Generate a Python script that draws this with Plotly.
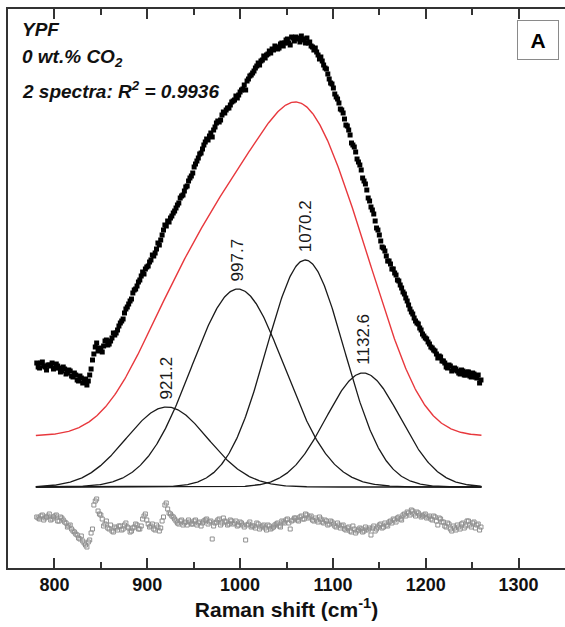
import numpy as np
import plotly.graph_objects as go

# Two spectra on interleaved Raman shift grids (cm-1)
shift_step, n_points = 3, 160
shift_a = 781.0 + shift_step * np.arange(n_points)
shift_b = 782.5 + shift_step * np.arange(n_points)

# Measured intensity (a.u., stacked above the component baseline)
intensity_a = [
    124, 119, 125, 120, 122, 121, 118, 123, 119, 116,
    118, 114, 116, 110, 112, 106, 109, 105, 102, 112,
    127, 140, 136, 138, 141, 147, 143, 149, 152, 157,
    164, 168, 178, 183, 188, 197, 201, 207, 215, 218,
    221, 227, 231, 238, 242, 252, 262, 266, 269, 274,
    279, 284, 291, 296, 301, 309, 314, 323, 329, 334,
    342, 348, 351, 350, 360, 366, 367, 375, 377, 379,
    385, 387, 389, 395, 398, 397, 408, 412, 416, 421,
    422, 427, 429, 433, 434, 437, 440, 439, 444, 444,
    448, 442, 449, 450, 448, 451, 447, 449, 445, 440,
    439, 432, 430, 422, 418, 408, 403, 393, 388, 378,
    374, 362, 357, 344, 340, 328, 322, 309, 303, 289,
    280, 273, 259, 252, 240, 236, 226, 223, 218, 212,
    206, 199, 193, 186, 178, 173, 166, 163, 157, 151,
    148, 143, 139, 136, 129, 130, 126, 120, 122, 116,
    119, 116, 113, 116, 112, 115, 110, 113, 109, 104,
]
intensity_b = [
    120, 124, 121, 117, 122, 124, 119, 121, 115, 120,
    113, 117, 111, 114, 107, 111, 104, 108, 106, 118,
    133, 144, 139, 135, 146, 142, 146, 154, 154, 161,
    166, 174, 180, 186, 194, 198, 205, 211, 213, 220,
    225, 232, 234, 244, 247, 257, 261, 265, 271, 276,
    282, 289, 292, 300, 306, 311, 320, 326, 333, 338,
    345, 347, 354, 357, 364, 365, 372, 374, 379, 382,
    386, 391, 392, 397, 402, 406, 411, 414, 419, 424,
    426, 431, 432, 436, 438, 441, 438, 443, 441, 447,
    444, 450, 446, 449, 445, 448, 444, 444, 441, 437,
    435, 428, 426, 419, 413, 404, 399, 390, 384, 377,
    368, 361, 352, 342, 335, 325, 317, 306, 297, 286,
    277, 266, 257, 246, 239, 231, 226, 218, 214, 207,
    202, 195, 189, 182, 175, 169, 164, 159, 153, 149,
    145, 140, 137, 133, 131, 126, 124, 119, 121, 117,
    118, 114, 117, 112, 115, 111, 114, 110, 112, 107,
]

# Fit residuals (a.u.)
residual_a = [
    6, 4, 8, 5, 7, 3, 6, 8, 2, 5,
    1, -4, -2, -8, -11, -15, -13, -20, -24, -17,
    -6, 22, 12, 8, -3, 2, -6, -8, -4, -7,
    -3, -6, 0, -5, -8, -4, -2, -6, 4, 9,
    -1, -3, -6, -2, -8, 2, 18, 14, 9, 6,
    2, -1, 3, 0, -2, 1, -1, 3, 0, -3,
    2, 4, 1, -16, 0, 3, -2, 5, 1, -1,
    2, 0, -3, 1, -2, -17, -1, -4, -3, 0,
    -6, -3, -5, -2, -6, -4, -1, -3, 2, 0,
    4, -6, 3, 5, 2, 7, 4, 8, 6, 3,
    5, 1, 4, 0, 2, -1, 1, -3, 0, -5,
    -2, -7, -4, -9, -6, -8, -5, -9, -4, -7,
    -12, -3, -6, -2, -5, 0, -3, 2, 4, 1,
    6, 3, 9, 11, 8, 12, 7, 10, 6, 8,
    5, 7, 3, 6, -2, 4, 1, -4, -1, -8,
    -5, -2, -6, 0, -3, 2, -4, 1, -2, -7,
]
residual_b = [
    5, 7, 3, 6, 9, 4, 7, 2, 6, 3,
    0, -3, -6, -9, -12, -16, -18, -22, -19, -10,
    18, 24, 9, 4, -1, -5, -2, -9, -5, -3,
    -7, -2, -4, -9, -5, -1, -6, -3, 7, 3,
    -4, -1, -7, -4, -5, 6, 20, 10, 7, 4,
    0, 2, -2, 1, 3, -1, 2, -2, 1, 0,
    3, -1, 2, -3, 1, 4, 0, 2, -2, 3,
    -1, 2, -2, 0, -4, -2, 1, -3, -5, -1,
    -4, -2, -7, -3, -5, -2, 0, -4, 1, 3,
    0, 2, 5, 3, 6, 4, 9, 5, 7, 2,
    3, 6, 1, 3, -2, 2, -1, -4, -2, -3,
    -6, -5, -8, -3, -10, -7, -6, -8, -6, -5,
    -5, -8, -4, -1, -4, -2, 1, 0, 3, 5,
    4, 8, 7, 10, 13, 9, 11, 8, 7, 9,
    6, 4, 7, 2, 5, 1, -3, 0, -6, -3,
    -7, -4, -1, -5, 2, -2, 0, -5, -1, -4,
]

# Gaussian components of the fit: centre (cm-1), amplitude (a.u.), sigma (cm-1)
peak_centers = [921.2, 997.7, 1070.2, 1132.6]
peak_amplitudes = [80, 198, 227, 114]
peak_sigmas = [44, 50, 42, 40]

# Vertical offsets used to stack the curves
FIT_OFFSET = 51
RESIDUAL_OFFSET = -36

model_x = np.linspace(780, 1260, 600)
components = [
    a * np.exp(-((model_x - c) ** 2) / (2 * s ** 2))
    for c, a, s in zip(peak_centers, peak_amplitudes, peak_sigmas)
]
fit_sum = np.sum(components, axis=0)

FONT = "Arial, Liberation Sans, sans-serif"
fig = go.Figure()

# residuals of both spectra
for xs, rs in ((shift_a, residual_a), (shift_b, residual_b)):
    fig.add_trace(go.Scatter(
        x=xs, y=np.array(rs) + RESIDUAL_OFFSET, mode="markers",
        marker=dict(symbol="square-open", size=4, color="#909090", line=dict(width=1)),
        hoverinfo="skip",
    ))
# individual components
for comp in components:
    fig.add_trace(go.Scatter(
        x=model_x, y=comp, mode="lines",
        line=dict(color="#1a1a1a", width=1.3), hoverinfo="skip",
    ))
# cumulative fit
fig.add_trace(go.Scatter(
    x=model_x, y=fit_sum + FIT_OFFSET, mode="lines",
    line=dict(color="#e8383d", width=1.4), hoverinfo="skip",
))
# measured spectra
for xs, ys in ((shift_a, intensity_a), (shift_b, intensity_b)):
    fig.add_trace(go.Scatter(
        x=xs, y=ys, mode="markers",
        marker=dict(symbol="square", size=5, color="black"),
        hoverinfo="skip",
    ))

annotations = []
for c, a in zip(peak_centers, peak_amplitudes):
    annotations.append(dict(
        x=c, y=a + 6, xref="x", yref="y", text=f"{c:.1f}",
        textangle=-90, showarrow=False, xanchor="center", yanchor="bottom",
        font=dict(family=FONT, size=17, color="#1a1a1a"),
    ))

header = [
    ("<b><i>YPF</i></b>", 0.985),
    ("<b><i>0 wt.% CO<sub>2</sub></i></b>", 0.937),
    ("<b><i>2 spectra: R<sup>2</sup> = 0.9936</i></b>", 0.880),
]
for text, yp in header:
    annotations.append(dict(
        x=0.022, y=yp, xref="paper", yref="paper", text=text, showarrow=False,
        xanchor="left", yanchor="top", font=dict(family=FONT, size=19, color="#111"),
    ))

annotations.append(dict(
    x=0.951, y=0.945, xref="paper", yref="paper", text="<b>A</b>", showarrow=False,
    xanchor="center", yanchor="middle", font=dict(family=FONT, size=21, color="black"),
    bordercolor="#8a8a8a", borderwidth=1, borderpad=7, width=26, height=24,
))

fig.update_layout(
    width=565, height=627,
    margin=dict(l=8, r=0, t=9, b=59),
    paper_bgcolor="white", plot_bgcolor="white",
    showlegend=False,
    annotations=annotations,
    xaxis=dict(
        range=[750, 1350], showgrid=False, zeroline=False,
        showline=True, linecolor="#333", linewidth=1.5, mirror="allticks",
        ticks="inside", ticklen=10, tickwidth=1.5, tickcolor="#333",
        tickmode="array", tickvals=[800, 900, 1000, 1100, 1200, 1300],
        ticktext=["<b>800</b>", "<b>900</b>", "<b>1000</b>", "<b>1100</b>",
                  "<b>1200</b>", "<b>1300</b>"],
        tickfont=dict(family=FONT, size=18, color="#111"),
        minor=dict(tickvals=[850, 950, 1050, 1150, 1250, 1350], ticks="inside",
                   ticklen=6, tickwidth=1.5, tickcolor="#333"),
        title=dict(text="<b>Raman shift (cm<sup>-1</sup>)</b>",
                   font=dict(family=FONT, size=21, color="#111"), standoff=6),
    ),
    yaxis=dict(
        range=[-81, 478], showgrid=False, zeroline=False, showticklabels=False,
        showline=True, linecolor="#333", linewidth=1.5, mirror=False, ticks="",
    ),
)

fig.write_html("out.html")
